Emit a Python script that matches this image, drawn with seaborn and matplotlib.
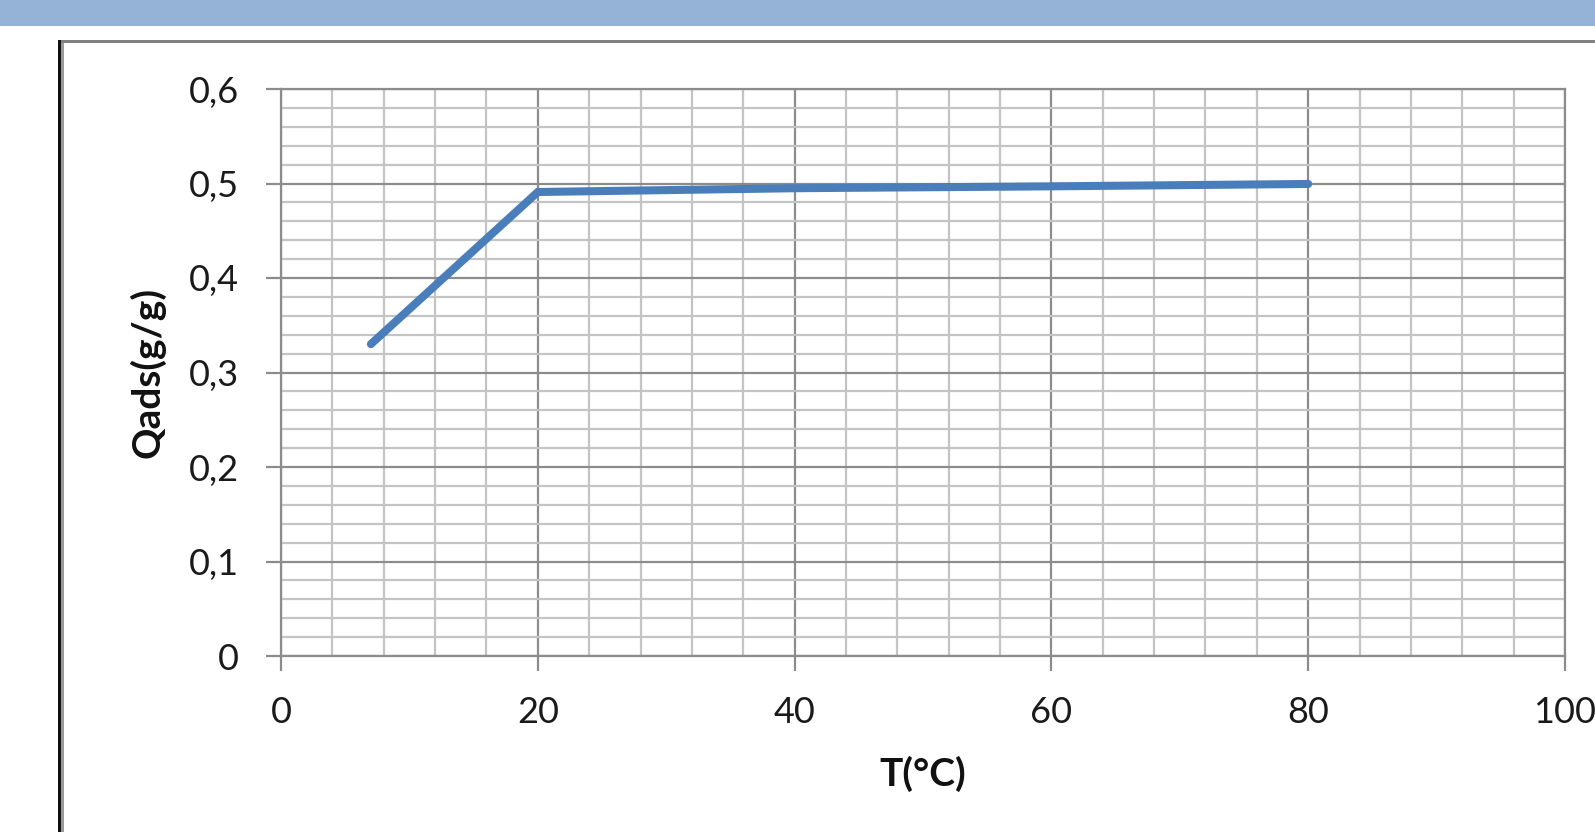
import matplotlib
matplotlib.use("Agg")
import matplotlib.pyplot as plt
import seaborn as sns
import pandas as pd
import numpy as np
from matplotlib.patches import Rectangle
from matplotlib.ticker import FixedLocator, FixedFormatter, MultipleLocator

# ---- data ----
temperature = [7, 20, 40, 60, 80]
qads = [0.330, 0.491, 0.495, 0.497, 0.4995]
xticks = [0, 20, 40, 60, 80, 100]
xtick_labels = ["0", "20", "40", "60", "80", "100"]
yticks = [0, 0.1, 0.2, 0.3, 0.4, 0.5, 0.6]
ytick_labels = ["0", "0,1", "0,2", "0,3", "0,4", "0,5", "0,6"]
x_label = "T(°C)"
y_label = "Qads(g/g)"

df = pd.DataFrame({"T": temperature, "Q": qads})

sns.set_theme(style="white")
plt.rcParams["font.family"] = ["Lato", "DejaVu Sans"]

W, H = 1595, 832
fig = plt.figure(figsize=(W / 100, H / 100), dpi=100)
fig.patch.set_facecolor("white")

# decorations: blue band and frame
fig.add_artist(Rectangle((0, 1 - 26 / H), 1, 26 / H, transform=fig.transFigure,
                         facecolor="#95B3D7", edgecolor="none", zorder=0))
fig.add_artist(Rectangle((59 / W, 1 - 43 / H), 1, 3 / H, transform=fig.transFigure,
                         facecolor="#808080", edgecolor="none", zorder=0))
fig.add_artist(Rectangle((58 / W, 0), 3 / W, 1 - 40 / H, transform=fig.transFigure,
                         facecolor="#111111", edgecolor="none", zorder=0))
fig.add_artist(Rectangle((61 / W, 0), 3 / W, 1 - 43 / H, transform=fig.transFigure,
                         facecolor="#9a9a9a", edgecolor="none", zorder=0))

left, right = 281 / W, 1565 / W
top, bottom = 1 - 89 / H, 1 - 656 / H
ax = fig.add_axes([left, bottom, right - left, top - bottom])
ax.set_facecolor("white")

sns.lineplot(data=df, x="T", y="Q", ax=ax, color="#4A7EBB", linewidth=5.8,
             solid_capstyle="round", solid_joinstyle="miter", zorder=5)

ax.set_xlim(0, 100)
ax.set_ylim(0, 0.6)
ax.xaxis.set_major_locator(FixedLocator(xticks))
ax.xaxis.set_major_formatter(FixedFormatter(xtick_labels))
ax.yaxis.set_major_locator(FixedLocator(yticks))
ax.yaxis.set_major_formatter(FixedFormatter(ytick_labels))
ax.xaxis.set_minor_locator(MultipleLocator(4))
ax.yaxis.set_minor_locator(MultipleLocator(0.02))

ax.grid(which="minor", color="#c4c4c4", linewidth=1.6, zorder=1)
ax.grid(which="major", color="#8c8c8c", linewidth=1.6, zorder=2)
ax.set_axisbelow(True)

for s in ax.spines.values():
    s.set_color("#8c8c8c")
    s.set_linewidth(1.6)
    s.set_visible(True)

ax.tick_params(which="major", direction="out", length=11, width=1.6,
               color="#8c8c8c", labelsize=26, labelcolor="#1a1a1a", bottom=True, left=True)
ax.tick_params(which="minor", length=0)
ax.tick_params(axis="y", pad=19)
ax.tick_params(axis="x", pad=18)

ax.set_xlabel(x_label, fontsize=28, fontweight="bold", color="#111111", labelpad=19)
ax.set_ylabel(y_label, fontsize=28, fontweight="bold", color="#111111", labelpad=17)

fig.savefig("out.png", dpi=100, facecolor="white")
